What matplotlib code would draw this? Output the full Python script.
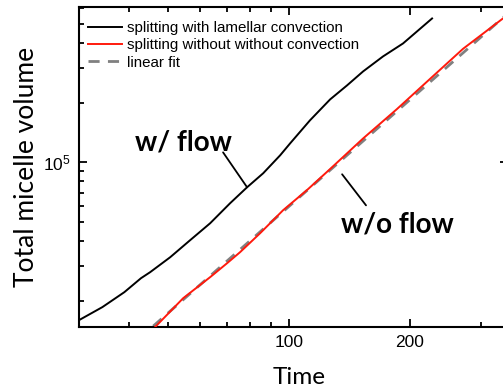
import numpy as np
import matplotlib
matplotlib.use("Agg")
import matplotlib.pyplot as plt
from matplotlib.ticker import FixedLocator, NullFormatter, FixedFormatter

# w/ flow (splitting with lamellar convection)
t_flow = [30.0, 34.3, 38.9, 42.8, 45.1, 50.6, 56.7, 63.6, 71.3, 78.6, 86.2, 95.0,
          100.6, 112.7, 126.5, 139.4, 152.8, 171.3, 192.1, 226.9]
v_flow = [15920, 18530, 22050, 25950, 27830, 33130, 40370, 49180, 62080, 74780, 88030, 108500,
          124700, 163000, 208000, 244900, 288100, 343100, 399000, 533800]

# w/o flow (splitting without convection)
t_noflow = [46.4, 54.5, 63.6, 70.1, 75.5, 84.7, 96.6, 110.9, 126.5, 152.8,
            185.6, 224.2, 271.0, 340.6, 350.0]
v_noflow = [14690, 20560, 26260, 30900, 35120, 43800, 57230, 72500, 92500, 132000,
            186000, 264000, 375000, 533800, 557800]

# linear fit (log-log), end points
t_fit = [45.9, 350.0]
v_fit = [14850, 565600]

legend_labels = ["splitting with lamellar convection",
                 "splitting without without convection",
                 "linear fit"]

fig = plt.figure(figsize=(5.03, 3.89), dpi=100)
ax = fig.add_axes([79/503, 1 - 327/389, (507.7 - 79)/503, (327 - 7)/389])

ax.plot(t_fit, v_fit, color="#808080", lw=2.0, ls=(0, (4, 3)), zorder=2, label=legend_labels[2])
ax.plot(t_noflow, v_noflow, color="#ff1a0d", lw=1.4, zorder=3, label=legend_labels[1])
ax.plot(t_flow, v_flow, color="black", lw=1.4, zorder=3, label=legend_labels[0])

ax.set_xscale("log")
ax.set_yscale("log")
ax.set_xlim(30, 350)
ax.set_ylim(14700, 610000)

ax.xaxis.set_major_locator(FixedLocator([100, 200]))
ax.xaxis.set_major_formatter(FixedFormatter(["100", "200"]))
ax.xaxis.set_minor_locator(FixedLocator([30, 40, 50, 60, 70, 80, 90, 300]))
ax.xaxis.set_minor_formatter(NullFormatter())
ax.yaxis.set_minor_formatter(NullFormatter())

for s in ax.spines.values():
    s.set_linewidth(1.5)
ax.tick_params(which="both", direction="in", top=True, right=True, width=1.3)
ax.tick_params(which="major", length=5.5, labelsize=12.5, pad=6)
ax.tick_params(which="minor", length=3.5)
for lb in ax.get_xticklabels() + ax.get_yticklabels():
    lb.set_family("Liberation Sans")

ax.set_xlabel("Time", family="Lato", fontsize=17.5)
ax.xaxis.set_label_coords(0.514, -0.125)
ax.set_ylabel("Total micelle volume", family="Lato", fontsize=19, labelpad=3)

h, l = ax.get_legend_handles_labels()
order = [2, 1, 0]
ax.legend([h[i] for i in order], [l[i] for i in order], loc="upper left",
          frameon=False, prop={"family": "Liberation Sans", "size": 10.9},
          handlelength=2.25, handletextpad=0.33, labelspacing=0.22,
          borderaxespad=0.2, bbox_to_anchor=(0.0, 0.985))

# annotations
ax.annotate("", xy=(78.6, 74800), xytext=(68.5, 112300),
            arrowprops=dict(arrowstyle="-", color="black", lw=1.3, shrinkA=0, shrinkB=0))
ax.text(54.5, 126200, "w/ flow", family="Lato", weight="bold", fontsize=20,
        ha="center", va="center")
ax.annotate("", xy=(135.5, 87000), xytext=(155.4, 60600),
            arrowprops=dict(arrowstyle="-", color="black", lw=1.3, shrinkA=0, shrinkB=0))
ax.text(185.6, 48600, "w/o flow", family="Lato", weight="bold", fontsize=20,
        ha="center", va="center")

fig.savefig("out.png", dpi=100)
